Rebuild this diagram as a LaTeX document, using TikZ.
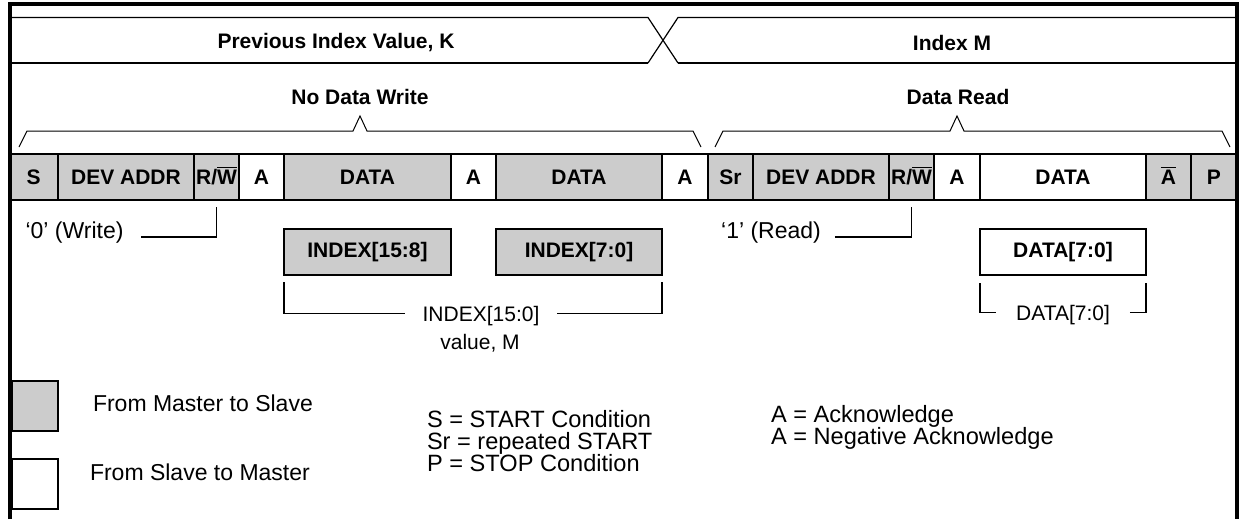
\documentclass[tikz,border=0pt]{standalone}
\usepackage{fontspec}
\setmainfont{Liberation Sans}
\usetikzlibrary{positioning}
\definecolor{cellgray}{HTML}{CCCCCC}
\begin{document}
\begin{tikzpicture}[
					x=0.5pt, y=-0.5pt,
					every node/.style={inner sep=0pt, outer sep=0pt, font=\fontsize{11.5}{13}\selectfont},
					cell/.style={draw, line width=0.8pt, minimum height=23pt, text height=7.6pt, text depth=0pt, font=\fontsize{10.5}{12}\selectfont\bfseries},
					mcell/.style={cell, fill=cellgray},
					scell/.style={cell, fill=white},
					bytebox/.style={draw, line width=1pt, minimum height=23pt, font=\fontsize{10.5}{12}\selectfont\bfseries},
					title/.style={font=\fontsize{10.5}{12}\selectfont\bfseries},
					sidenote/.style={font=\fontsize{10.5}{12}\selectfont},
					keytext/.style={anchor=base west, font=\fontsize{11.8}{13}\selectfont},
					keybox/.style={draw, line width=1pt, minimum width=23pt, minimum height=25pt},
					thinline/.style={line width=0.5pt},
					pointer/.style={line width=0.7pt}
				]
				\useasboundingbox (0,0) rectangle (1240,519);
				\draw[line width=0.6pt] (9.5,17.5) -- (648,17.5) -- (678,63);
				\draw[line width=0.6pt] (648,63) -- (678,17.5) -- (1236.5,17.5);
				\draw[line width=1.1pt] (9.5,63) -- (648,63);
				\draw[line width=1.1pt] (678,63) -- (1236.5,63);
				\node[title] (prev) at (336,43) {Previous Index Value, K};
				\node[title] (indm) at (952,43) {Index M};
				\node[title] (nowr) at (360,97) {No Data Write};
				\node[title] (drd) at (958,97) {Data Read};
				\draw[thinline] (19,147) -- (27,131) -- (353,131) -- (360,116) -- (367,131) -- (693,131) -- (701,147);
				\draw[thinline] (715,147) -- (723,131) -- (950,131) -- (957,116) -- (964,131) -- (1222,131) -- (1230,147);
				\node[mcell, minimum width=24.25pt, anchor=west] (s) at (9.5,177) {S};
				\node[mcell, minimum width=68pt, right=0pt of s] (addr) {DEV ADDR};
				\node[mcell, minimum width=22.5pt, right=0pt of addr] (rw) {R/$\overline{\mbox{W}}$};
				\node[scell, minimum width=22.5pt, right=0pt of rw] (ack1) {A};
				\node[mcell, minimum width=83.5pt, right=0pt of ack1] (hi) {DATA};
				\node[scell, minimum width=22.5pt, right=0pt of hi] (ack2) {A};
				\node[mcell, minimum width=83pt, right=0pt of ack2] (lo) {DATA};
				\node[scell, minimum width=23pt, right=0pt of lo] (ack3) {A};
				\node[mcell, minimum width=22.5pt, right=0pt of ack3] (sr) {Sr};
				\node[mcell, minimum width=68pt, right=0pt of sr] (raddr) {DEV ADDR};
				\node[mcell, minimum width=22.5pt, right=0pt of raddr] (rrw) {R/$\overline{\mbox{W}}$};
				\node[scell, minimum width=23pt, right=0pt of rrw] (ack4) {A};
				\node[scell, minimum width=83pt, right=0pt of ack4] (rd) {DATA};
				\node[mcell, minimum width=22.5pt, right=0pt of rd] (nack) {$\overline{\mbox{A}}$};
				\node[mcell, minimum width=22.75pt, right=0pt of nack] (p) {P};
				\draw[line width=1.3pt] (s.north west) -- (p.north east);
				\draw[line width=1.3pt] (s.south west) -- (p.south east);
				\node[anchor=base] (wr) at (74.5,238) {‘0’ (Write)};
				\draw[pointer] ([xshift=9pt,yshift=0.5pt]wr.base east) -| ([yshift=-3.5pt]rw.south);
				\node[anchor=base] (rdn) at (771,238) {‘1’ (Read)};
				\draw[pointer] ([xshift=7pt,yshift=0.5pt]rdn.base east) -| ([yshift=-3.5pt]rrw.south);
				\node[bytebox, fill=cellgray, minimum width=83.5pt, below=14.5pt of hi] (ihi) {INDEX[15:8]};
				\node[bytebox, fill=cellgray, minimum width=83pt, below=14.5pt of lo] (ilo) {INDEX[7:0]};
				\node[bytebox, fill=white, minimum width=83pt, below=14.5pt of rd] (rbyte) {DATA[7:0]};
				\node[sidenote, anchor=base] (ival) at (481,321) {INDEX[15:0]};
				\node[sidenote, anchor=base] (mval) at (480,349) {value, M};
				\draw[pointer] ([yshift=-3.5pt]ihi.south west) |- ([xshift=-9pt,yshift=1pt]ival.west);
				\draw[pointer] ([xshift=9pt,yshift=1pt]ival.east) -| ([yshift=-3.5pt]ilo.south east);
				\node[sidenote, anchor=base] (dval) at (1063,320) {DATA[7:0]};
				\draw[pointer] ([yshift=-4pt]rbyte.south west) |- ([xshift=-10pt,yshift=1pt]dval.west);
				\draw[pointer] ([xshift=10pt,yshift=1pt]dval.east) -| ([yshift=-4pt]rbyte.south east);
				\node[keybox, fill=cellgray] (lgm) at (35,406) {};
				\node[keybox, fill=white] (lgs) at (35,484) {};
				\node[keytext, font=\fontsize{11.5}{13}\selectfont] (lgmt) at (93,411) {From Master to Slave};
				\node[keytext, font=\fontsize{11.5}{13}\selectfont] (lgst) at (90,480) {From Slave to Master};
				\node[keytext] (ds) at (427,427) {S = START Condition};
				\node[keytext] (dsr) at (427,449) {Sr = repeated START};
				\node[keytext] (dp) at (427,471) {P = STOP Condition};
				\node[keytext] (da) at (771,422) {A = Acknowledge};
				\node[keytext] (dna) at (771,444) {A = Negative Acknowledge};
				\draw[line width=2pt] (9.5,519) -- (9.5,4.5) -- (1236.5,4.5) -- (1236.5,519);
			\end{tikzpicture}
\end{document}
